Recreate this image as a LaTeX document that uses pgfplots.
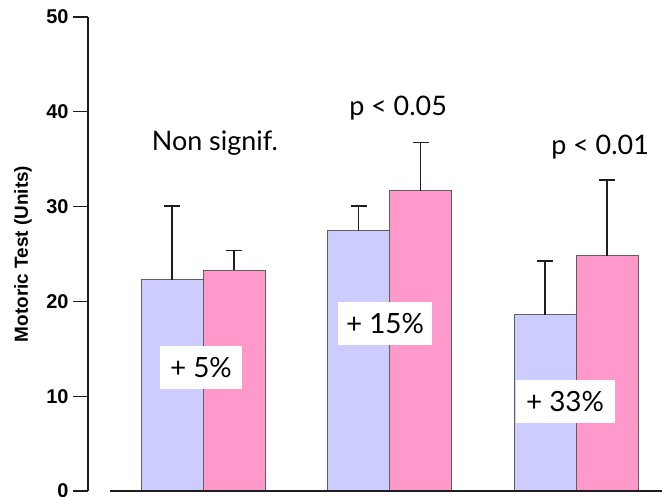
\documentclass[border=0pt]{standalone}
\usepackage{pgfplots}
\pgfplotsset{compat=1.18}
\usepackage{fontspec}
\setmainfont{Liberation Sans}
\newfontfamily\annfont{Lato}
\definecolor{barblue}{RGB}{204,204,255}
\definecolor{barpink}{RGB}{255,153,204}
\definecolor{edge}{RGB}{95,95,95}
\definecolor{axc}{RGB}{30,30,30}
\begin{document}
\begin{tikzpicture}
\begin{axis}[
  scale only axis, width=574bp, height=474bp,
  xmin=0.3834, xmax=3.461, ymin=0, ymax=50,
  axis x line=none, axis y line*=left,
  ytick={0,10,...,50}, xtick=\empty,
  tick align=outside, major tick length=15bp,
  y axis line style={line width=1.3bp, axc},
  ytick style={line width=1.3bp, axc},
  yticklabel style={font=\fontsize{20}{20}\selectfont\bfseries, /pgf/number format/assume math mode=true, xshift=-1bp},
  ylabel={Motoric Test (Units)},
  every axis y label/.style={at={(rel axis cs:0,0.5)}, xshift=-65bp, rotate=90, anchor=center, font=\fontsize{19}{19}\selectfont\bfseries},
  ybar=0pt, bar width=62bp,
  clip=false,
]
\coordinate (O) at (rel axis cs:0,0);
\addplot[fill=barblue, draw=edge, line width=1bp,
  error bars/.cd, y dir=plus, y explicit,
  error bar style={line width=1.3bp, axc},
  error mark options={rotate=90, mark size=8bp, line width=1.3bp, axc}]
  table[x=x, y=y, y error=e] {
x y e
1 22.26 7.80
2 27.46 2.60
3 18.57 5.69
};
\addplot[fill=barpink, draw=edge, line width=1bp,
  error bars/.cd, y dir=plus, y explicit,
  error bar style={line width=1.3bp, axc},
  error mark options={rotate=90, mark size=8bp, line width=1.3bp, axc}]
  table[x=x, y=y, y error=e] {
x y e
1 23.30 2.05
2 31.65 5.09
3 24.79 8.01
};
\draw[line width=1.3bp, axc] (axis cs:0.5,0) -- (axis cs:3.461,0);
\node[font=\annfont\fontsize{27}{27}\selectfont] at (axis cs:1.064,36.7) {Non signif.};
\node[font=\annfont\fontsize{27}{27}\selectfont] at (axis cs:2.046,40.4) {p < 0.05};
\node[font=\annfont\fontsize{27}{27}\selectfont] at (axis cs:3.129,36.3) {p < 0.01};
\node[fill=white, minimum width=82bp, minimum height=43bp, inner sep=0pt, font=\annfont\fontsize{28}{28}\selectfont] at (axis cs:0.989,13.0) {+ 5\%};
\node[fill=white, minimum width=94bp, minimum height=43bp, inner sep=0pt, font=\annfont\fontsize{28}{28}\selectfont] at (axis cs:1.976,17.7) {+ 15\%};
\node[fill=white, minimum width=99bp, minimum height=43bp, inner sep=0pt, font=\annfont\fontsize{28}{28}\selectfont] at (axis cs:2.941,9.4) {+ 33\%};
\end{axis}
\pgfresetboundingbox
\path[use as bounding box] (O) ++(-88bp,-6bp) rectangle ++(662bp,497bp);
\end{tikzpicture}
\end{document}
